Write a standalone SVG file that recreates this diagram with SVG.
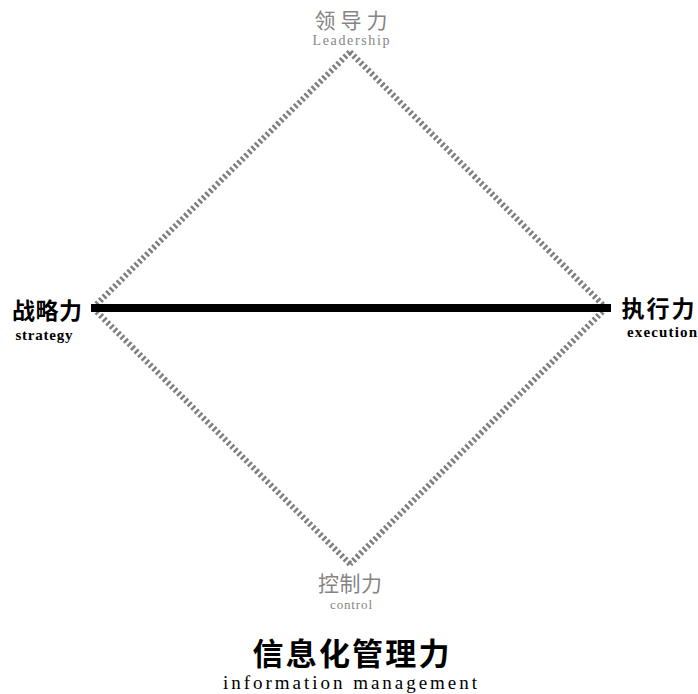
<svg xmlns="http://www.w3.org/2000/svg" width="698" height="694" viewBox="0 0 698 694">
<style>
.dash{fill:none;stroke:#7f7f7f;stroke-width:6;stroke-dasharray:2.5 2.5}
.zh{font-family:"Liberation Serif","Noto Sans CJK SC",serif;text-anchor:middle}
.en{font-family:"Liberation Serif",serif;text-anchor:middle}
.gray{fill:#858585}
.blk{fill:#000;font-weight:bold}
</style>
<rect width="698" height="694" fill="#fff"/>
<g id="connectors">
<path class="dash" d="M350,52 L606,308"/>
<path class="dash" d="M606,308 L350,564"/>
<path class="dash" d="M350,564 L93,308"/>
<path class="dash" d="M93,308 L350,52"/>
<line x1="91" y1="308" x2="611" y2="308" stroke="#000" stroke-width="8"/>
</g>
<g id="leadership">
<text class="zh gray" x="351" y="28" font-size="21" textLength="73" lengthAdjust="spacing">领导力</text>
<text class="en gray" x="351" y="45" font-size="14" textLength="77" lengthAdjust="spacing">Leadership</text>
</g>
<g id="strategy">
<text class="zh blk" x="47" y="319" font-size="23" textLength="70" lengthAdjust="spacing">战略力</text>
<text class="en blk" x="44" y="340" font-size="15" textLength="57" lengthAdjust="spacing">strategy</text>
</g>
<g id="execution">
<text class="zh blk" x="658" y="317" font-size="23" textLength="73" lengthAdjust="spacing">执行力</text>
<text class="en blk" x="662" y="337" font-size="15" textLength="70" lengthAdjust="spacing">execution</text>
</g>
<g id="control">
<text class="zh gray" x="350" y="591" font-size="21" textLength="64" lengthAdjust="spacing">控制力</text>
<text class="en gray" x="351" y="609" font-size="13" textLength="42" lengthAdjust="spacing">control</text>
</g>
<g id="title">
<text class="zh blk" x="351" y="665" font-size="31" textLength="197" lengthAdjust="spacing">信息化管理力</text>
<text class="en" x="350" y="689" font-size="19" textLength="254" lengthAdjust="spacing" fill="#000">information management</text>
</g>
</svg>
